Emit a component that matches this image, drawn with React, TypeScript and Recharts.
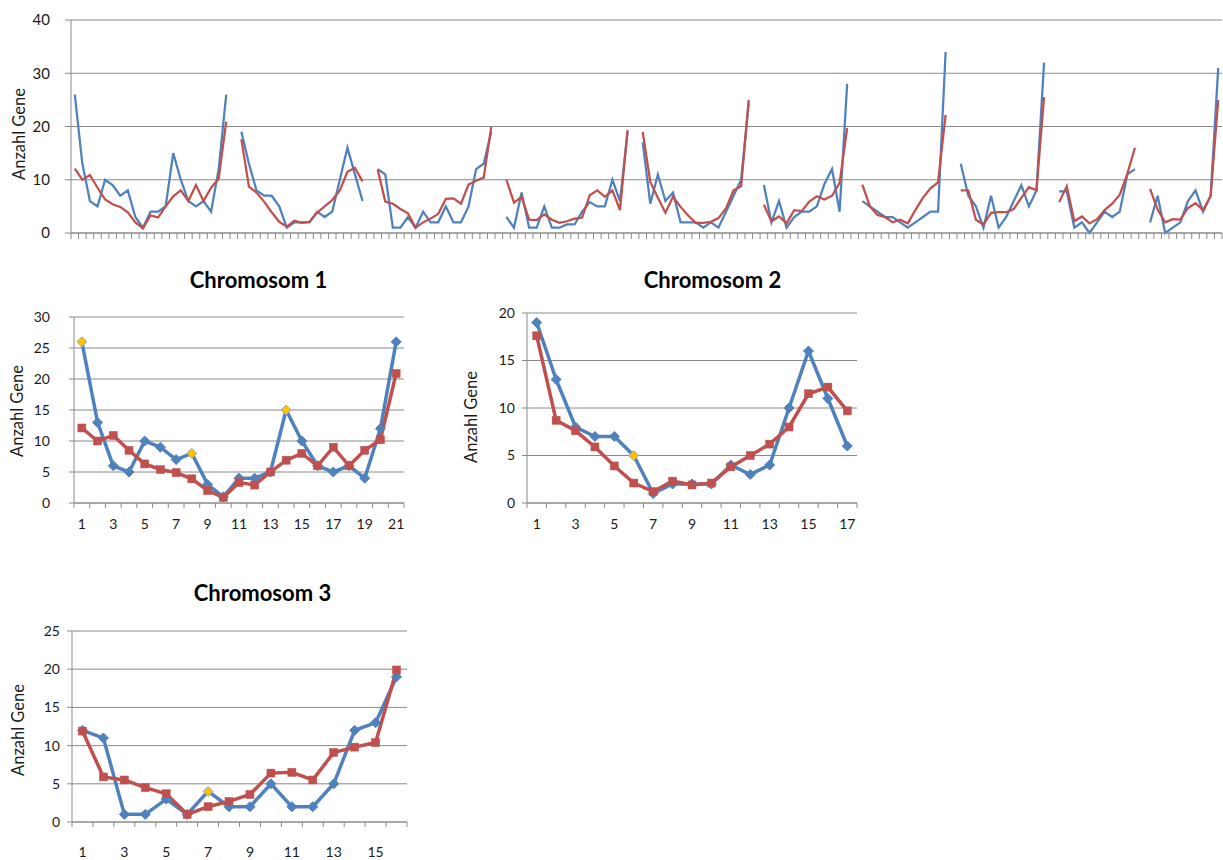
import React from 'react';
import { LineChart, Line, XAxis, YAxis, CartesianGrid } from 'recharts';

const FONT = 'Lato, "Open Sans", sans-serif';
const GRID = '#8a8a8a';
const BLUE = '#4F81BD';
const RED = '#C0504D';
const YELLOW = '#FFC000';
const TEXT = '#1a1a1a';

// ---- values per chromosome (blue = observed, red = second series) ----
const chr1Blue = [26, 13, 6, 5, 10, 9, 7, 8, 3, 1, 4, 4, 5, 15, 10, 6, 5, 6, 4, 12, 26];
const chr1Red = [12.1, 10, 10.9, 8.5, 6.3, 5.4, 4.9, 3.9, 2, 0.9, 3.3, 2.9, 5, 6.9, 8, 6, 9, 6, 8.5, 10.2, 20.9];
const chr2Blue = [19, 13, 8, 7, 7, 5, 1, 2, 2, 2, 4, 3, 4, 10, 16, 11, 6];
const chr2Red = [17.6, 8.7, 7.6, 5.9, 3.9, 2.1, 1.2, 2.3, 1.9, 2.1, 3.8, 5, 6.2, 8, 11.5, 12.2, 9.7];
const chr3Blue = [12, 11, 1, 1, 3, 1, 4, 2, 2, 5, 2, 2, 5, 12, 13, 19];
const chr3Red = [11.9, 5.9, 5.5, 4.5, 3.7, 1, 2, 2.7, 3.6, 6.4, 6.5, 5.5, 9.1, 9.8, 10.4, 19.9];
const chr4Blue = [3, 1, 7.6, 1, 1, 5, 1, 1, 1.6, 1.6, 4, 5.8, 5, 5, 10, 6, 19];
const chr4Red = [10, 5.7, 6.8, 2.5, 2.4, 3.5, 2.5, 1.9, 2.2, 2.7, 2.9, 7.1, 8, 6.8, 8, 4.3, 19.3];
const chr5Blue = [17, 5.5, 11, 6, 7.6, 2, 2, 2, 1, 2, 1, 4, 7, 10, 24.5];
const chr5Red = [19, 9.6, 6.6, 3.8, 6.8, 4.9, 3.3, 1.9, 1.9, 2.1, 2.8, 4.6, 8, 8.8, 25];
const chr6Blue = [9, 2, 6, 1, 3, 4, 4, 5, 9.2, 12, 4, 28];
const chr6Red = [5.3, 2.2, 3.1, 1.8, 4.3, 4.1, 5.9, 6.9, 6.3, 7, 9.4, 19.7];
const chr7Blue = [6, 5, 4, 3, 3, 2, 1, 2, 3, 4, 4, 34];
const chr7Red = [9.1, 5, 3.4, 3, 2, 2.5, 1.8, 4.3, 6.6, 8.4, 9.5, 22.2];
const chr8Blue = [13, 7, 5, 1, 7, 1, 3, 6, 9, 5, 8, 32];
const chr8Red = [8, 8, 2.5, 1.6, 3.8, 3.9, 3.9, 4.5, 6.6, 8.6, 8, 25.5];
const chr9Blue = [7.8, 7.8, 1, 2, 0, 2, 4, 3, 4, 11, 12];
const chr9Red = [5.8, 8.8, 2.2, 3.1, 1.8, 2.6, 4.3, 5.5, 7.2, 11.1, 16];
const chr10Blue = [2, 7, 0, 1, 2, 6, 8, 4, 7, 31];
const chr10Red = [8.3, 4.4, 2, 2.6, 2.5, 4.7, 5.6, 4.3, 6.9, 25];

const overviewBlue = [chr1Blue, chr2Blue, chr3Blue, chr4Blue, chr5Blue, chr6Blue, chr7Blue, chr8Blue, chr9Blue, chr10Blue];
const overviewRed = [chr1Red, chr2Red, chr3Red, chr4Red, chr5Red, chr6Red, chr7Red, chr8Red, chr9Red, chr10Red];

// highlighted (yellow) points, 1-based positions
const chr1Highlight = [1, 8, 14];
const chr2Highlight = [6];
const chr3Highlight = [7];

// axis tick labels
const overviewYTicks = [0, 10, 20, 30, 40];
const chr1YTicks = [0, 5, 10, 15, 20, 25, 30];
const chr2YTicks = [0, 5, 10, 15, 20];
const chr3YTicks = [0, 5, 10, 15, 20, 25];
const chr1XLabels = [1, 3, 5, 7, 9, 11, 13, 15, 17, 19, 21];
const chr2XLabels = [1, 3, 5, 7, 9, 11, 13, 15, 17];
const chr3XLabels = [1, 3, 5, 7, 9, 11, 13, 15];

const TITLE_Y = 'Anzahl Gene';
const TITLES = ['Chromosom 1', 'Chromosom 2', 'Chromosom 3'];

// ---- table builders ----
function buildOverview() {
  const rows: any[] = [];
  let x = 1;
  overviewBlue.forEach((b, ci) => {
    if (ci > 0) {
      rows.push({ x, blue: null, red: null });
      x++;
    }
    b.forEach((v, i) => {
      rows.push({ x, blue: v, red: overviewRed[ci][i] });
      x++;
    });
  });
  return rows;
}

function buildSmall(blue: number[], red: number[], hl: number[]) {
  return blue.map((v, i) => ({ x: i + 1, blue: v, red: red[i], hl: hl.includes(i + 1) }));
}

function halfTicks(n: number) {
  const t: number[] = [];
  for (let i = 0; i <= n; i++) t.push(i + 0.5);
  return t;
}

const overviewData = buildOverview();
const chr1Data = buildSmall(chr1Blue, chr1Red, chr1Highlight);
const chr2Data = buildSmall(chr2Blue, chr2Red, chr2Highlight);
const chr3Data = buildSmall(chr3Blue, chr3Red, chr3Highlight);

const makeXTick = (labels: number[], tickLen: number, labelDy: number, fontSize: number) => (props: any) => {
  const { x, y, payload, index } = props;
  const v = payload.value;
  if (Math.abs(v - Math.round(v)) > 0.01) {
    return <line key={'t' + index} x1={x} x2={x} y1={y} y2={y + tickLen} stroke={GRID} strokeWidth={1} />;
  }
  if (labels.includes(v)) {
    return (
      <text key={'l' + index} x={x} y={y + labelDy} textAnchor="middle" fontSize={fontSize} fontFamily={FONT} fill={TEXT}>
        {v}
      </text>
    );
  }
  return <g key={'e' + index} />;
};

const diamondDot = (props: any) => {
  const { cx, cy, index, payload } = props;
  if (cx == null || cy == null || payload == null || payload.blue == null) return <g key={'d' + index} />;
  const s = 5;
  const yellow = !!payload.hl;
  return (
    <polygon
      key={'d' + index}
      points={`${cx},${cy - s} ${cx + s},${cy} ${cx},${cy + s} ${cx - s},${cy}`}
      fill={yellow ? YELLOW : BLUE}
      stroke={yellow ? '#8FA9CF' : BLUE}
      strokeWidth={1}
    />
  );
};

const squareDot = (props: any) => {
  const { cx, cy, index, payload } = props;
  if (cx == null || cy == null || payload == null || payload.red == null) return <g key={'s' + index} />;
  const s = 4;
  return <rect key={'s' + index} x={cx - s} y={cy - s} width={2 * s} height={2 * s} fill={RED} stroke={RED} strokeWidth={0.5} />;
};

type SmallProps = {
  data: any[];
  n: number;
  labels: number[];
  yTicks: number[];
  left: number;
  top: number;
  width: number;
  height: number;
  marginTop: number;
  marginRight: number;
  yAxisWidth: number;
  xAxisHeight: number;
  tickMargin: number;
  labelDy: number;
};

function SmallChart(p: SmallProps) {
  const xt = [...halfTicks(p.n), ...p.labels].sort((a, b) => a - b);
  return (
    <div style={{ position: 'absolute', left: p.left, top: p.top, width: p.width, height: p.height }}>
      <LineChart
        width={p.width}
        height={p.height}
        data={p.data}
        margin={{ top: p.marginTop, right: p.marginRight, left: 0, bottom: 0 }}
      >
        <CartesianGrid vertical={false} stroke={GRID} strokeWidth={1} />
        <XAxis
          dataKey="x"
          type="number"
          domain={[0.5, p.n + 0.5]}
          ticks={xt}
          interval={0}
          tickLine={false}
          tickSize={0}
          tickMargin={0}
          height={p.xAxisHeight}
          axisLine={{ stroke: GRID }}
          tick={makeXTick(p.labels, 5, p.labelDy, 14)}
        />
        <YAxis
          type="number"
          domain={[0, p.yTicks[p.yTicks.length - 1]]}
          ticks={p.yTicks}
          interval={0}
          width={p.yAxisWidth}
          tickSize={5}
          tickMargin={p.tickMargin}
          tickLine={{ stroke: GRID }}
          axisLine={{ stroke: GRID }}
          tick={{ fontSize: 14, fontFamily: FONT, fill: TEXT }}
        />
        <Line
          dataKey="blue"
          stroke={BLUE}
          strokeWidth={3.5}
          dot={diamondDot}
          activeDot={false}
          isAnimationActive={false}
        />
        <Line
          dataKey="red"
          stroke={RED}
          strokeWidth={3.5}
          dot={squareDot}
          activeDot={false}
          isAnimationActive={false}
        />
      </LineChart>
    </div>
  );
}

export default function App() {
  const overviewTicks = halfTicks(overviewData.length);
  return (
    <div style={{ position: 'absolute', left: 0, top: 0, width: 1223, height: 860, background: '#fff', fontFamily: FONT }}>
      <div style={{ position: 'absolute', left: 0, top: 0, width: 1223, height: 262 }}>
        <LineChart width={1223} height={262} data={overviewData} margin={{ top: 20, right: 1, left: 0, bottom: 0 }}>
          <CartesianGrid vertical={false} stroke={GRID} strokeWidth={1} />
          <XAxis
            dataKey="x"
            type="number"
            domain={[0.5, overviewData.length + 0.5]}
            ticks={overviewTicks}
            interval={0}
            tickLine={false}
            tickSize={0}
            tickMargin={0}
            height={29}
            axisLine={{ stroke: GRID }}
            tick={makeXTick([], 6, 0, 14)}
          />
          <YAxis
            type="number"
            domain={[0, 40]}
            ticks={overviewYTicks}
            interval={0}
            width={71}
            tickSize={6}
            tickMargin={15}
            tickLine={{ stroke: GRID }}
            axisLine={{ stroke: GRID }}
            tick={{ fontSize: 15, fontFamily: FONT, fill: TEXT }}
          />
          <Line dataKey="blue" stroke={BLUE} strokeWidth={2.25} dot={false} activeDot={false} isAnimationActive={false} />
          <Line dataKey="red" stroke={RED} strokeWidth={2.25} dot={false} activeDot={false} isAnimationActive={false} />
        </LineChart>
      </div>

      <SmallChart
        data={chr1Data}
        n={chr1Blue.length}
        labels={chr1XLabels}
        yTicks={chr1YTicks}
        left={0}
        top={300}
        width={420}
        height={240}
        marginTop={17}
        marginRight={16}
        yAxisWidth={74}
        xAxisHeight={37}
        tickMargin={19}
        labelDy={26}
      />
      <SmallChart
        data={chr2Data}
        n={chr2Blue.length}
        labels={chr2XLabels}
        yTicks={chr2YTicks}
        left={440}
        top={300}
        width={430}
        height={240}
        marginTop={13}
        marginRight={13}
        yAxisWidth={87}
        xAxisHeight={37}
        tickMargin={7}
        labelDy={26}
      />
      <SmallChart
        data={chr3Data}
        n={chr3Blue.length}
        labels={chr3XLabels}
        yTicks={chr3YTicks}
        left={0}
        top={610}
        width={420}
        height={250}
        marginTop={21}
        marginRight={13}
        yAxisWidth={72}
        xAxisHeight={38}
        tickMargin={7}
        labelDy={35}
      />

      <svg width={1223} height={860} style={{ position: 'absolute', left: 0, top: 0, pointerEvents: 'none' }}>
        <g fontFamily={FONT} fill={TEXT}>
          <text x={18.5} y={134} fontSize={16.5} textAnchor="middle" dominantBaseline="central" transform="rotate(-90 18.5 134)">
            {TITLE_Y}
          </text>
          <text x={17} y={411} fontSize={16.5} textAnchor="middle" dominantBaseline="central" transform="rotate(-90 17 411)">
            {TITLE_Y}
          </text>
          <text x={471} y={417} fontSize={16.5} textAnchor="middle" dominantBaseline="central" transform="rotate(-90 471 417)">
            {TITLE_Y}
          </text>
          <text x={17.5} y={730} fontSize={16.5} textAnchor="middle" dominantBaseline="central" transform="rotate(-90 17.5 730)">
            {TITLE_Y}
          </text>
          <text x={258.5} y={288} fontSize={22} fontWeight="bold" textAnchor="middle" fill="#000">
            {TITLES[0]}
          </text>
          <text x={712.5} y={288} fontSize={22} fontWeight="bold" textAnchor="middle" fill="#000">
            {TITLES[1]}
          </text>
          <text x={262.5} y={601} fontSize={22} fontWeight="bold" textAnchor="middle" fill="#000">
            {TITLES[2]}
          </text>
        </g>
      </svg>
    </div>
  );
}
